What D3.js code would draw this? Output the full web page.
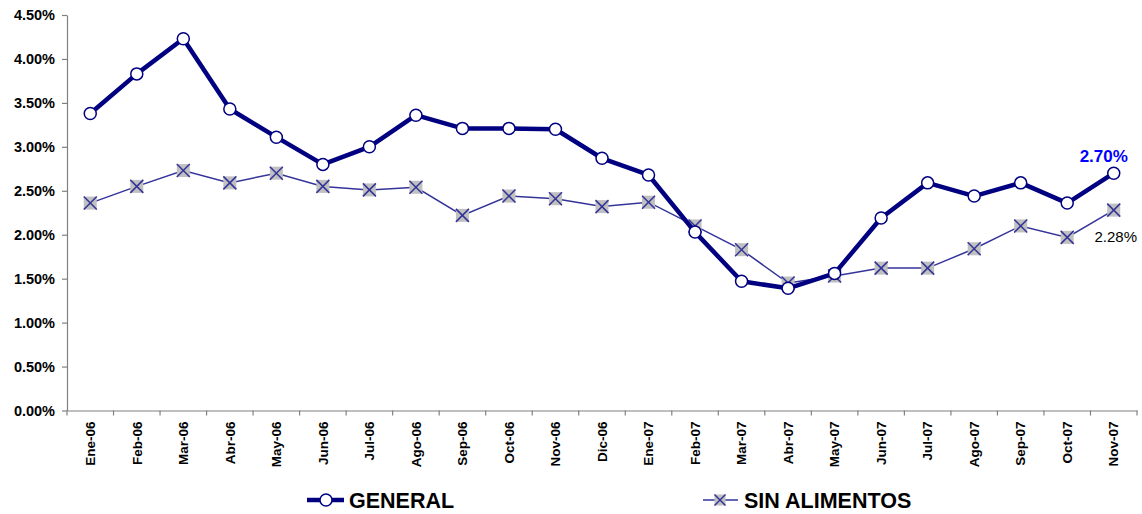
<!DOCTYPE html>
<html>
<head>
<meta charset="utf-8">
<script src="https://cdn.jsdelivr.net/npm/d3@7"></script>
<style>
body { margin: 0; background: #fff; }
text { font-family: Arial, "Liberation Sans", sans-serif; }
</style>
</head>
<body>
<svg id="chart" width="1142" height="514"></svg>
<script>
var months = ["Ene-06","Feb-06","Mar-06","Abr-06","May-06","Jun-06","Jul-06","Ago-06","Sep-06","Oct-06","Nov-06","Dic-06",
	"Ene-07","Feb-07","Mar-07","Abr-07","May-07","Jun-07","Jul-07","Ago-07","Sep-07","Oct-07","Nov-07"];
var general = [3.38,3.83,4.23,3.43,3.11,2.80,3.00,3.36,3.21,3.21,3.20,2.87,2.68,2.03,1.47,1.39,1.56,2.19,2.59,2.44,2.59,2.36,2.70];
var sinAlimentos = [2.36,2.55,2.73,2.59,2.70,2.55,2.51,2.54,2.22,2.44,2.41,2.32,2.37,2.10,1.83,1.45,1.53,1.62,1.62,1.84,2.10,1.97,2.28];
var yTicks = [0,0.5,1,1.5,2,2.5,3,3.5,4,4.5];

var svg = d3.select("#chart");
var plotLeft = 67, plotRight = 1137, plotTop = 15, plotBottom = 410.5;

var x = d3.scaleBand().domain(months).range([plotLeft, plotRight]);
var y = d3.scaleLinear().domain([0, 4.5]).range([plotBottom, plotTop]);

// y axis
var yAxis = svg.append("g")
	.attr("transform", "translate(" + plotLeft + ",0)")
	.call(d3.axisLeft(y).tickValues(yTicks).tickSize(5).tickSizeOuter(0).tickFormat(function(d) { return d.toFixed(2) + "%"; }));
yAxis.selectAll("line, path").attr("stroke", "#808080").attr("stroke-width", 1.2);
yAxis.selectAll("text").attr("font-size", 14.5).attr("font-weight", "bold").attr("fill", "#000").attr("dx", -4);

// x axis
var xAxis = svg.append("g")
	.attr("transform", "translate(0," + plotBottom + ")")
	.call(d3.axisBottom(x).tickSize(0).tickSizeOuter(0));
xAxis.select("path").attr("stroke", "#808080").attr("stroke-width", 1.2);
xAxis.selectAll("text")
	.attr("font-size", 13.5).attr("font-weight", "bold").attr("fill", "#000")
	.attr("transform", "rotate(-90)")
	.attr("text-anchor", "end")
	.attr("x", -11).attr("y", 0).attr("dy", "0.35em");
// tick marks on category boundaries
svg.append("g").selectAll("line")
	.data(months.concat(["end"]))
	.enter().append("line")
	.attr("x1", function(d, i) { return plotLeft + i * x.step(); })
	.attr("x2", function(d, i) { return plotLeft + i * x.step(); })
	.attr("y1", plotBottom).attr("y2", plotBottom + 5)
	.attr("stroke", "#808080").attr("stroke-width", 1.2);

var cx = function(d, i) { return x(months[i]) + x.bandwidth() / 2; };

// SIN ALIMENTOS
svg.append("path")
	.datum(sinAlimentos)
	.attr("fill", "none").attr("stroke", "#333399").attr("stroke-width", 1.5)
	.attr("d", d3.line().x(cx).y(function(d) { return y(d); }));

function xMarker(g, px, py, s) {
	g.append("rect").attr("x", px - s).attr("y", py - s).attr("width", 2 * s).attr("height", 2 * s).attr("fill", "#c0c0c0");
	g.append("line").attr("x1", px - s).attr("y1", py - s).attr("x2", px + s).attr("y2", py + s).attr("stroke", "#333399").attr("stroke-width", 1.5);
	g.append("line").attr("x1", px - s).attr("y1", py + s).attr("x2", px + s).attr("y2", py - s).attr("stroke", "#333399").attr("stroke-width", 1.5);
}
var sinG = svg.append("g");
sinAlimentos.forEach(function(d, i) { xMarker(sinG, cx(d, i), y(d), 6.5); });

// GENERAL
svg.append("path")
	.datum(general)
	.attr("fill", "none").attr("stroke", "#000080").attr("stroke-width", 4.5).attr("stroke-linejoin", "round")
	.attr("d", d3.line().x(cx).y(function(d) { return y(d); }));
svg.append("g").selectAll("circle")
	.data(general).enter().append("circle")
	.attr("cx", cx).attr("cy", function(d) { return y(d); })
	.attr("r", 6).attr("fill", "#fff").attr("stroke", "#000080").attr("stroke-width", 1.5);

// labels for last points
var last = months.length - 1;
svg.append("text")
	.attr("x", cx(null, last) - 10).attr("y", y(general[last]) - 11)
	.attr("text-anchor", "middle").attr("font-size", 17).attr("font-weight", "bold").attr("fill", "#0000ff")
	.text(general[last].toFixed(2) + "%");
svg.append("text")
	.attr("x", cx(null, last) + 2).attr("y", y(sinAlimentos[last]) + 32)
	.attr("text-anchor", "middle").attr("font-size", 15).attr("fill", "#000")
	.text(sinAlimentos[last].toFixed(2) + "%");

// legend
var lg = svg.append("g");
lg.append("line").attr("x1", 307).attr("x2", 344).attr("y1", 500).attr("y2", 500).attr("stroke", "#000080").attr("stroke-width", 4.5);
lg.append("circle").attr("cx", 326).attr("cy", 500).attr("r", 6).attr("fill", "#fff").attr("stroke", "#000080").attr("stroke-width", 1.5);
lg.append("text").attr("x", 349).attr("y", 508).attr("font-size", 21.5).attr("font-weight", "bold").text("GENERAL");
lg.append("line").attr("x1", 703).attr("x2", 738).attr("y1", 500).attr("y2", 500).attr("stroke", "#333399").attr("stroke-width", 1.5);
xMarker(lg, 720, 500, 5.5);
lg.append("text").attr("x", 744).attr("y", 508).attr("font-size", 21.5).attr("font-weight", "bold").text("SIN ALIMENTOS");
</script>
</body>
</html>
